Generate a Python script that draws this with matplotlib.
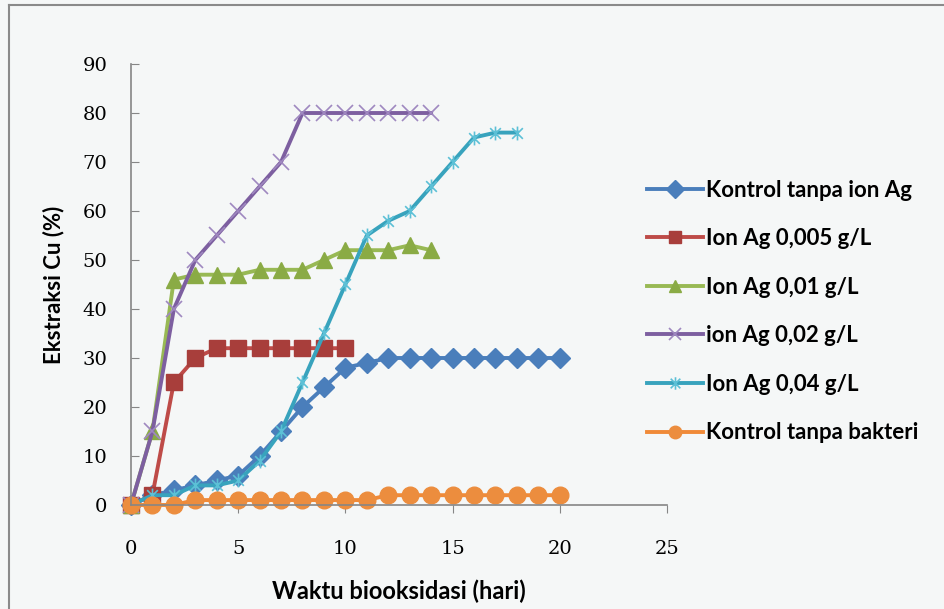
import matplotlib
matplotlib.use("Agg")
import matplotlib.pyplot as plt
from matplotlib.path import Path
from matplotlib.lines import Line2D

# data
hari_kontrol = list(range(0, 21))
kontrol_ag = [0, 2, 3, 4, 5, 6, 10, 15, 20, 24, 28, 29, 30, 30, 30, 30, 30, 30, 30, 30, 30]
hari_005 = list(range(0, 11))
ag_005 = [0, 2, 25, 30, 32, 32, 32, 32, 32, 32, 32]
hari_001 = list(range(0, 15))
ag_001 = [0, 15, 46, 47, 47, 47, 48, 48, 48, 50, 52, 52, 52, 53, 52]
hari_002 = list(range(0, 15))
ag_002 = [0, 15, 40, 50, 55, 60, 65, 70, 80, 80, 80, 80, 80, 80, 80]
hari_004 = list(range(0, 19))
ag_004 = [0, 2, 2, 4, 4, 5, 9, 15, 25, 35, 45, 55, 58, 60, 65, 70, 75, 76, 76]
hari_bakteri = list(range(0, 21))
kontrol_bakteri = [0, 0, 0, 1, 1, 1, 1, 1, 1, 1, 1, 1, 2, 2, 2, 2, 2, 2, 2, 2, 2]

labels = ["Kontrol tanpa ion Ag", "Ion Ag 0,005 g/L", "Ion Ag 0,01 g/L",
          "ion Ag 0,02 g/L", "Ion Ag 0,04 g/L", "Kontrol tanpa bakteri"]

bg = "#f5f7f7"
star = Path([(-1, -1), (1, 1), (-1, 1), (1, -1), (0, -1.3), (0, 1.3)],
            [Path.MOVETO, Path.LINETO, Path.MOVETO, Path.LINETO, Path.MOVETO, Path.LINETO])

fig = plt.figure(figsize=(9.45, 6.09), dpi=100, facecolor=bg)
ax = fig.add_axes([0.1386, 0.1708, 0.5672, 0.7241], facecolor=bg)

series = [
    (hari_kontrol, kontrol_ag, "#4a7ebb", "D", 10, "#4a7ebb", 1),
    (hari_005, ag_005, "#be4b48", "s", 11.5, "#a83e3b", 1),
    (hari_001, ag_001, "#98b954", "^", 12, "#8aab45", 1),
    (hari_002, ag_002, "#7d5fa0", "x", 12, "#9f88c0", 1.2),
    (hari_004, ag_004, "#38a3bd", star, 10, "#5cc0d6", 1.2),
    (hari_bakteri, kontrol_bakteri, "#f08a38", "o", 12, "#ec8d3e", 1),
]
handles = []
for (x, y, c, m, ms, mc, mew), lab in zip(series, labels):
    if m == "x" or m is star:
        ln, = ax.plot(x, y, color=c, lw=2.8, marker=m, ms=ms, mec=mc, mew=mew,
                      clip_on=False, label=lab)
    else:
        ln, = ax.plot(x, y, color=c, lw=2.8, marker=m, ms=ms, mfc=mc, mec=mc,
                      clip_on=False, label=lab)
    handles.append(ln)

ax.set_xlim(0, 25)
ax.set_ylim(0, 90)
ax.set_xticks(range(0, 26, 5))
ax.set_yticks(range(0, 91, 10))
for s in ["top", "right"]:
    ax.spines[s].set_visible(False)
for s in ["left", "bottom"]:
    ax.spines[s].set_color("#868686")
    ax.spines[s].set_linewidth(1.2)
ax.tick_params(axis="y", direction="in", length=6, color="#868686", pad=17)
ax.tick_params(axis="x", direction="out", length=6, color="#868686", pad=19)
for t in ax.get_xticklabels() + ax.get_yticklabels():
    t.set_fontfamily("DejaVu Serif")
    t.set_fontsize(14)

ax.set_xlabel("Waktu biooksidasi (hari)", fontsize=17, fontweight="bold",
              family="Lato", labelpad=16)
ax.set_ylabel("Ekstraksi Cu (%)", fontsize=16, fontweight="bold",
              family="Lato", labelpad=13)

leg = fig.legend(handles=handles, loc="upper left", bbox_to_anchor=(0.664, 0.738),
                 frameon=False, handlelength=2.5, handletextpad=0.15,
                 labelspacing=1.24, prop={"family": "Lato", "weight": "bold", "size": 16})
for h in leg.legend_handles:
    h.set_markersize(9)

# chart border
fig.add_artist(Line2D([0.0095, 0.0095], [0, 0.992], color="#8a8a8a", lw=1.5))
fig.add_artist(Line2D([0.0095, 1.0], [0.992, 0.992], color="#8a8a8a", lw=1.5))

fig.savefig("out.png", dpi=100, facecolor=bg)
